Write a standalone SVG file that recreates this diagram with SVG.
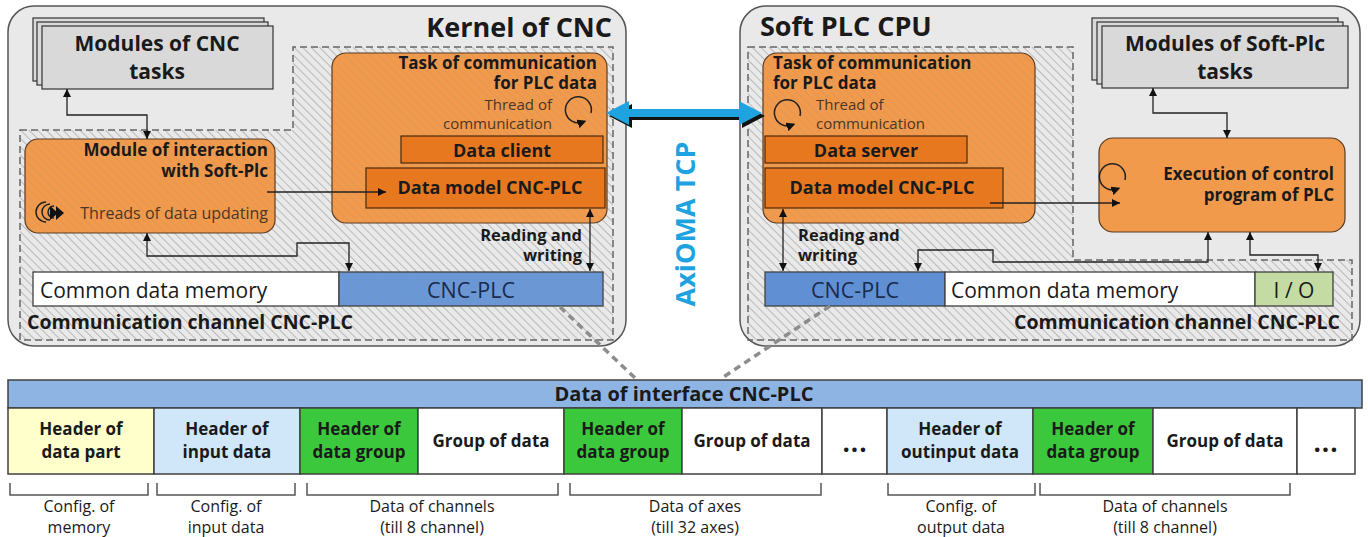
<svg xmlns="http://www.w3.org/2000/svg" width="1368" height="537" viewBox="0 0 1368 537">
<defs>
<style>
text{font-family:"Open Sans","Liberation Sans",sans-serif;fill:#1a1a1a}
.b{font-weight:bold}
.panel{fill:#e9e9e9;stroke:#555;stroke-width:1.5}
.dash{fill:none;stroke:#666;stroke-width:1.5;stroke-dasharray:7 4}
.org{fill:#f29a4c;stroke:#5a3a20;stroke-width:1.2}
.org2{fill:#e8781f;stroke:#4a2a10;stroke-width:1.2}
.mod{fill:#d9d9d9;stroke:#333;stroke-width:1.2}
.hat{fill:url(#hatch)}
.con{fill:none;stroke:#222;stroke-width:1.3}
.cell{stroke:#404040;stroke-width:1.5}
.brk{fill:none;stroke:#555;stroke-width:1.5}
.thr{fill:#4a3626}
.gd{fill:none;stroke:#8c8c8c;stroke-width:3.5;stroke-dasharray:7 5}
.t18{font-size:17px}
</style>
<pattern id="hatch" patternUnits="userSpaceOnUse" width="6" height="6" patternTransform="rotate(-45)">
<line x1="0" y1="0" x2="0" y2="6" stroke="#8a8a8a" stroke-width="1"/>
</pattern>
<marker id="ah" viewBox="0 0 10 10" refX="10" refY="5" markerWidth="9" markerHeight="8" markerUnits="userSpaceOnUse" orient="auto-start-reverse"><path d="M0,0 L10,5 L0,10 z" fill="#111"/></marker>
<marker id="ahs" viewBox="0 0 10 10" refX="6" refY="5" markerWidth="9" markerHeight="9" markerUnits="userSpaceOnUse" orient="auto"><path d="M0,0 L10,5 L0,10 z" fill="#111"/></marker>
</defs>
<rect width="1368" height="537" fill="#fff"/>

<!-- Left panel -->
<g id="kernel">
<rect class="panel" x="8" y="6" width="618" height="340" rx="26"/>
<path class="hat" d="M20,130 H293 V47 H613 V340 H20 Z"/>
<path class="dash" d="M20,130 H293 V47 H613 V340 H20 Z"/>
<text class="b" x="612" y="37" font-size="27" text-anchor="end">Kernel of CNC</text>
</g>
<g id="modules-cnc">
<rect class="mod" x="33" y="18" width="231" height="63"/>
<rect class="mod" x="37" y="22" width="231" height="63"/>
<rect class="mod" x="42" y="26" width="231" height="63"/>
<text class="b" x="157" y="51" font-size="21" text-anchor="middle">Modules of CNC</text>
<text class="b" x="157" y="79" font-size="21" text-anchor="middle">tasks</text>
</g>
<g id="module-interaction">
<rect class="org" x="25" y="139" width="250" height="94" rx="13"/>
<rect class="hat" x="25" y="139" width="250" height="94" rx="13" opacity="0.35"/>
<text class="b t18" x="268" y="156" text-anchor="end">Module of interaction</text>
<text class="b t18" x="268" y="177" text-anchor="end">with Soft-Plc</text>
<text class="thr" x="268" y="219" font-size="16" text-anchor="end">Threads of data updating</text>
<path d="M46,202 A10,10 0 0 0 46,222 M50,204 A8,8 0 0 0 50,220 M54,206 A6,6 0 0 0 54,218" fill="none" stroke="#222" stroke-width="1.5"/>
<path d="M50,206 L58,213 L50,220 Z M56,206 L64,213 L56,220 Z" fill="#111"/>
</g>
<g id="task-comm-cnc">
<rect class="org" x="332" y="53" width="275" height="170" rx="14"/>
<rect class="hat" x="332" y="53" width="275" height="170" rx="14" opacity="0.35"/>
<text class="b t18" x="597" y="69" text-anchor="end">Task of communication</text>
<text class="b t18" x="597" y="89" text-anchor="end">for PLC data</text>
<text class="thr" x="552" y="110" font-size="15" text-anchor="end">Thread of</text>
<text class="thr" x="552" y="129" font-size="15" text-anchor="end">communication</text>
<path d="M591,113 A13,13 0 1 0 583,122" fill="none" stroke="#222" stroke-width="1.5" marker-end="url(#ahs)"/>
</g>
<g id="data-client">
<rect class="org2" x="401" y="136" width="202" height="27"/>
<text class="b" x="502" y="157" font-size="18" text-anchor="middle">Data client</text>
</g>
<g id="data-model-cnc">
<rect class="org2" x="366" y="168" width="239" height="40"/>
<text class="b" x="490" y="194" font-size="18" text-anchor="middle">Data model CNC-PLC</text>
</g>
<g id="mem-cnc">
<rect x="33" y="272" width="306" height="34" fill="#fff" stroke="#404040" stroke-width="1.3"/>
<text x="40" y="298" font-size="21">Common data memory</text>
<rect x="339" y="272" width="264" height="34" fill="#6a98d6" stroke="#404040" stroke-width="1.3"/>
<rect class="hat" x="339" y="272" width="264" height="34" opacity="0.3"/>
<text x="471" y="298" font-size="21.5" text-anchor="middle" style="fill:#1a2a4a">CNC-PLC</text>
<text class="b" x="27" y="329" font-size="19.5">Communication channel CNC-PLC</text>
</g>
<text class="b" x="582" y="241" font-size="16.5" text-anchor="end">Reading and</text>
<text class="b" x="582" y="261" font-size="16.5" text-anchor="end">writing</text>

<!-- Right panel -->
<g id="softplc">
<rect class="panel" x="740" y="6" width="620" height="340" rx="26"/>
<path class="hat" d="M748,47 H1073 V260 H1352 V340 H748 Z"/>
<path class="dash" d="M748,47 H1073 V260 H1352 V340 H748 Z"/>
<text class="b" x="760" y="36" font-size="27">Soft PLC CPU</text>
</g>
<g id="modules-plc">
<rect class="mod" x="1092" y="18" width="246" height="62"/>
<rect class="mod" x="1097" y="22" width="246" height="62"/>
<rect class="mod" x="1102" y="26" width="246" height="62"/>
<text class="b" x="1225" y="51" font-size="21" text-anchor="middle">Modules of Soft-Plc</text>
<text class="b" x="1225" y="79" font-size="21" text-anchor="middle">tasks</text>
</g>
<g id="task-comm-plc">
<rect class="org" x="763" y="53" width="272" height="170" rx="14"/>
<rect class="hat" x="763" y="53" width="272" height="170" rx="14" opacity="0.35"/>
<text class="b t18" x="773" y="69">Task of communication</text>
<text class="b t18" x="773" y="89">for PLC data</text>
<text class="thr" x="816" y="110" font-size="15">Thread of</text>
<text class="thr" x="816" y="129" font-size="15">communication</text>
<path d="M800,116 A13,13 0 1 0 792,125" fill="none" stroke="#222" stroke-width="1.5" marker-end="url(#ahs)"/>
</g>
<g id="data-server">
<rect class="org2" x="765" y="136" width="202" height="27"/>
<text class="b" x="866" y="157" font-size="18" text-anchor="middle">Data server</text>
</g>
<g id="data-model-plc">
<rect class="org2" x="765" y="168" width="238" height="40"/>
<text class="b" x="882" y="194" font-size="18" text-anchor="middle">Data model CNC-PLC</text>
</g>
<g id="execution">
<rect class="org" x="1099" y="138" width="246" height="94" rx="14"/>
<text class="b t18" x="1334" y="180" text-anchor="end">Execution of control</text>
<text class="b t18" x="1334" y="201" text-anchor="end">program of PLC</text>
<path d="M1125,180 A13,13 0 1 0 1117,189" fill="none" stroke="#222" stroke-width="1.5" marker-end="url(#ahs)"/>
</g>
<g id="mem-plc">
<rect x="765" y="272" width="180" height="34" fill="#5f90d6" stroke="#404040" stroke-width="1.3"/>
<rect class="hat" x="765" y="272" width="180" height="34" opacity="0.3"/>
<text x="855" y="298" font-size="21.5" text-anchor="middle" style="fill:#1a2a4a">CNC-PLC</text>
<rect x="945" y="272" width="310" height="34" fill="#fff" stroke="#404040" stroke-width="1.3"/>
<text x="951" y="298" font-size="21">Common data memory</text>
<rect x="1255" y="272" width="78" height="34" fill="#c4dca4" stroke="#404040" stroke-width="1.3"/>
<text x="1294" y="298" font-size="21" text-anchor="middle">I / O</text>
<text class="b" x="1340" y="329" font-size="19.5" text-anchor="end">Communication channel CNC-PLC</text>
</g>
<text class="b" x="798" y="241" font-size="16.5">Reading and</text>
<text class="b" x="798" y="261" font-size="16.5">writing</text>

<!-- TCP -->
<g id="tcp">
<polygon points="609,116 632,104 632,112 742,112 742,104 765,116 742,128 742,120 632,120 632,128" fill="#111"/>
<polygon points="606,113 629,101 629,109 739,109 739,101 762,113 739,125 739,117 629,117 629,125" fill="#1fa3e0"/>
<text class="b" x="0" y="0" font-size="27" text-anchor="middle" transform="translate(695,224) rotate(-90)" style="fill:#1fa3e0">AxiOMA TCP</text>
</g>

<!-- Connectors -->
<g id="connectors">
<path class="con" d="M67,89 V115 H147 V139" marker-start="url(#ah)" marker-end="url(#ah)"/>
<path class="con" d="M147,233 V256 H297 V243 H349 V271" marker-start="url(#ah)" marker-end="url(#ah)"/>
<path class="con" d="M267,192 H386" marker-end="url(#ah)"/>
<path class="con" d="M590,209 V271" marker-start="url(#ah)" marker-end="url(#ah)"/>
<path class="con" d="M783,209 V271" marker-start="url(#ah)" marker-end="url(#ah)"/>
<path class="con" d="M990,203 H1120" marker-end="url(#ah)"/>
<path class="con" d="M1153,88 V113 H1227 V138" marker-start="url(#ah)" marker-end="url(#ah)"/>
<path class="con" d="M918,271 V250 H993 V262 H1208 V232" marker-start="url(#ah)" marker-end="url(#ah)"/>
<path class="con" d="M1250,232 V255 H1318 V271" marker-start="url(#ah)" marker-end="url(#ah)"/>
<path class="gd" d="M560,307 L635,378"/>
<path class="gd" d="M830,306 L722,378"/>
</g>

<!-- Data table -->
<g id="interface-header">
<rect x="8" y="380" width="1354" height="28" fill="#8db4e2" stroke="#404040" stroke-width="1.5"/>
<text class="b" x="684" y="401" font-size="20" text-anchor="middle">Data of interface CNC-PLC</text>
</g>
<g id="cells">
<rect class="cell" x="8" y="408" width="146" height="66" fill="#ffffcc"/>
<rect class="cell" x="154" y="408" width="146" height="66" fill="#cfe7f8"/>
<rect class="cell" x="300" y="408" width="118" height="66" fill="#3cc83c"/>
<rect class="cell" x="418" y="408" width="146" height="66" fill="#fff"/>
<rect class="cell" x="564" y="408" width="118" height="66" fill="#3cc83c"/>
<rect class="cell" x="682" y="408" width="140" height="66" fill="#fff"/>
<rect class="cell" x="822" y="408" width="65" height="66" fill="#fff"/>
<rect class="cell" x="887" y="408" width="146" height="66" fill="#cfe7f8"/>
<rect class="cell" x="1033" y="408" width="120" height="66" fill="#3cc83c"/>
<rect class="cell" x="1153" y="408" width="144" height="66" fill="#fff"/>
<rect class="cell" x="1297" y="408" width="58" height="66" fill="#fff"/>
<g class="b t18" text-anchor="middle">
<text x="81" y="435">Header of</text><text x="81" y="458">data part</text>
<text x="227" y="435">Header of</text><text x="227" y="458">input data</text>
<text x="359" y="435">Header of</text><text x="359" y="458">data group</text>
<text x="491" y="447">Group of data</text>
<text x="623" y="435">Header of</text><text x="623" y="458">data group</text>
<text x="752" y="447">Group of data</text>
<text x="855" y="452" font-size="26" letter-spacing="1">...</text>
<text x="960" y="435">Header of</text><text x="960" y="458">outinput data</text>
<text x="1093" y="435">Header of</text><text x="1093" y="458">data group</text>
<text x="1225" y="447">Group of data</text>
<text x="1326" y="452" font-size="26" letter-spacing="1">...</text>
</g>
</g>
<g id="brackets">
<path class="brk" d="M10,483 V495 H148 V483 M157,483 V495 H295 V483 M307,483 V495 H558 V483 M570,483 V495 H821 V483 M888,483 V495 H1035 V483 M1040,483 V495 H1290 V483"/>
<g font-size="16" text-anchor="middle">
<text x="79" y="512">Config. of</text><text x="79" y="533">memory</text>
<text x="226" y="512">Config. of</text><text x="226" y="533">input data</text>
<text x="432" y="512">Data of channels</text><text x="432" y="533">(till 8 channel)</text>
<text x="695" y="512">Data of axes</text><text x="695" y="533">(till 32 axes)</text>
<text x="961" y="512">Config. of</text><text x="961" y="533">output data</text>
<text x="1165" y="512">Data of channels</text><text x="1165" y="533">(till 8 channel)</text>
</g>
</g>
</svg>
